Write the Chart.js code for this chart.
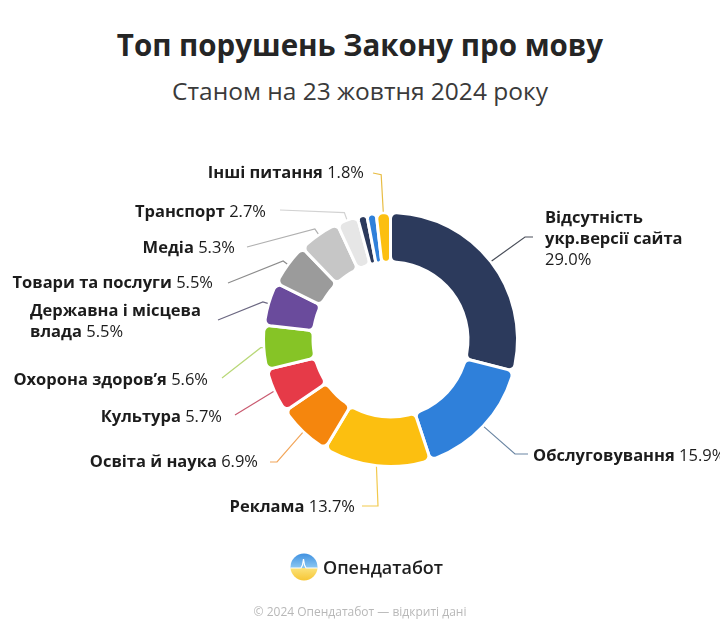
<!DOCTYPE html>
<html lang="uk">
<head>
<meta charset="utf-8">
<title>Топ порушень Закону про мову</title>
<script src="https://cdn.jsdelivr.net/npm/chart.js@4.4.1/dist/chart.umd.min.js"></script>
<style>
    html, body { margin: 0; padding: 0; background: #fff; }
    body {
        width: 720px; height: 631px; position: relative; overflow: hidden;
        font-family: "Open Sans", "Noto Sans", sans-serif;
    }
    #mainChart { position: absolute; left: 0; top: 0; }
    .title {
        position: absolute; left: 0; right: 0; top: 27px; margin: 0;
        text-align: center; font-size: 29.5px; line-height: 36px; font-weight: 700; color: #252525;
    }
    .subtitle {
        position: absolute; left: 0; right: 0; top: 76px; margin: 0;
        text-align: center; font-size: 24.5px; line-height: 30px; font-weight: 400; color: #3a3a3a;
    }
    .brand {
        position: absolute; left: 290px; top: 553px; height: 28px;
        display: flex; align-items: center; gap: 5px;
        font-size: 18px; font-weight: 600; color: #1e1e1e;
    }
    .copy {
        position: absolute; left: 0; right: 0; top: 603px; text-align: center;
        font-size: 12px; line-height: 18px; color: #b8b8b8;
    }
</style>
</head>
<body>
<h1 class="title">Топ порушень Закону про мову</h1>
<p class="subtitle">Станом на 23 жовтня 2024 року</p>
<canvas id="mainChart" width="720" height="631"></canvas>
<div class="brand">
    <svg width="28" height="28" viewBox="0 0 28 28">
        <defs>
            <clipPath id="c"><circle cx="14" cy="14" r="13.5"/></clipPath>
            <linearGradient id="sky" x1="0" y1="0" x2="0" y2="1">
                <stop offset="0" stop-color="#3d8fe0"/>
                <stop offset="1" stop-color="#8cc8f2"/>
            </linearGradient>
            <linearGradient id="field" x1="0" y1="0" x2="0" y2="1">
                <stop offset="0" stop-color="#fbe27a"/>
                <stop offset="1" stop-color="#f6c532"/>
            </linearGradient>
        </defs>
        <g clip-path="url(#c)">
            <rect x="0" y="0" width="28" height="15" fill="url(#sky)"/>
            <rect x="0" y="15" width="28" height="13" fill="url(#field)"/>
            <path d="M0 15 L11 15 L12.5 12 L13.5 6 L14.5 12 L16 15 L28 15" fill="none" stroke="#fff" stroke-width="1.2"/>
        </g>
    </svg>
    <span>Опендатабот</span>
</div>
<div class="copy">© 2024 Опендатабот — відкриті дані</div>

<script>
// shares in %, clockwise from 12 o'clock
const categories = [
    'Відсутність укр.версії сайта', 'Обслуговування', 'Реклама', 'Освіта й наука',
    'Культура', 'Охорона здоров’я', 'Державна і місцева влада', 'Товари та послуги',
    'Медіа', 'Транспорт', '', '', 'Інші питання'
];
const shares = [29.0, 15.9, 13.7, 6.9, 5.7, 5.6, 5.5, 5.5, 5.3, 2.7, 1.2, 1.2, 1.8];

// how the name is broken into lines next to the ring
const labelLines = [
    ['Відсутність', 'укр.версії сайта'], ['Обслуговування'], ['Реклама'], ['Освіта й наука'],
    ['Культура'], ['Охорона здоров’я'], ['Державна і місцева', 'влада'], ['Товари та послуги'],
    ['Медіа'], ['Транспорт'], null, null, ['Інші питання']
];

const sliceColors = [
    '#2c3a5c', '#2f80da', '#fcbf10', '#f5860d', '#e63a48', '#86c426', '#6a4b9c',
    '#9b9b9b', '#c6c6c6', '#e6e6e6', '#2c3a5c', '#2f80da', '#fcbf10'
];
const leaderColors = [
    '#4a4f5a', '#6b86a3', '#f2c94c', '#f2a65a', '#c95a70', '#b9d879', '#6c6882',
    '#8c8c8c', '#b0b0b0', '#d2d2d2', null, null, '#e8bd45'
];

// label placement: ext = radial elbow, end = where the leader meets the text, text anchor
const labelLayout = [
    { ext: 0,  end: [525, 237], tail: 8,   tx: 545, ty: 218, align: 'left', pctNewLine: true },
    { ext: 0,  end: [515, 454], tail: 13,  tx: 533, ty: 456, align: 'left' },
    { ext: 0,  end: [378, 506], tail: -16, tx: 355, ty: 507, align: 'right' },
    { ext: 0,  end: [277, 462], tail: -7,  tx: 258, ty: 462, align: 'right' },
    { ext: 0,  end: [235, 415], tail: 0,   tx: 222, ty: 417, align: 'right' },
    { ext: 3,  end: [222, 378], tail: 0,   tx: 208, ty: 380, align: 'right' },
    { ext: 6,  end: [218, 320], tail: 0,   tx: 30,  ty: 311, align: 'left' },
    { ext: 6,  end: [228, 283], tail: 0,   tx: 213, ty: 283, align: 'right' },
    { ext: 7,  end: [247, 247], tail: 0,   tx: 235, ty: 248, align: 'right' },
    { ext: 8,  end: [280, 210], tail: 0,   tx: 266, ty: 212, align: 'right' },
    null, null,
    { ext: 38, end: [373, 173], tail: 0,   tx: 364, ty: 173, align: 'right' }
];

const FONT = '"Open Sans", "Noto Sans", sans-serif';
const LINE_H = 21;

function drawLabel(ctx, lines, pct, lay) {
    ctx.textBaseline = 'middle';
    ctx.fillStyle = '#1c1c1c';
    const bold = '700 16.5px ' + FONT;
    const reg = '400 16.5px ' + FONT;
    lines.forEach((line, i) => {
        const y = lay.ty + i * LINE_H;
        const isLast = i === lines.length - 1;
        ctx.font = bold;
        const wb = ctx.measureText(line).width;
        let tailText = '';
        let ws = 0;
        if (isLast && !lay.pctNewLine) {
            tailText = ' ' + pct;
            ctx.font = reg;
            ws = ctx.measureText(tailText).width;
        }
        const x0 = lay.align === 'right' ? lay.tx - wb - ws : lay.tx;
        ctx.font = bold;
        ctx.textAlign = 'left';
        ctx.fillText(line, x0, y);
        if (tailText) {
            ctx.font = reg;
            ctx.fillText(tailText, x0 + wb, y);
        }
    });
    if (lay.pctNewLine) {
        ctx.font = reg;
        ctx.textAlign = 'left';
        ctx.fillText(pct, lay.tx, lay.ty + lines.length * LINE_H);
    }
}

const leaderPlugin = {
    id: 'leaders',
    afterDatasetsDraw(chart) {
        const ctx = chart.ctx;
        const meta = chart.getDatasetMeta(0);
        ctx.save();
        meta.data.forEach((arc, i) => {
            const lay = labelLayout[i];
            if (!lay || !labelLines[i]) return;
            const { x, y, startAngle, endAngle, outerRadius } = arc.getProps(['x', 'y', 'startAngle', 'endAngle', 'outerRadius'], true);
            const mid = (startAngle + endAngle) / 2;
            const pts = [[x + Math.cos(mid) * (outerRadius + 1), y + Math.sin(mid) * (outerRadius + 1)]];
            if (lay.ext) {
                pts.push([x + Math.cos(mid) * (outerRadius + lay.ext), y + Math.sin(mid) * (outerRadius + lay.ext)]);
            }
            pts.push(lay.end);
            if (lay.tail) pts.push([lay.end[0] + lay.tail, lay.end[1]]);

            ctx.beginPath();
            ctx.strokeStyle = leaderColors[i];
            ctx.lineWidth = 1.2;
            pts.forEach((p, k) => (k ? ctx.lineTo(p[0], p[1]) : ctx.moveTo(p[0], p[1])));
            ctx.stroke();

            drawLabel(ctx, labelLines[i], shares[i].toFixed(1) + '%', lay);
        });
        ctx.restore();
    }
};

const ctx = document.getElementById('mainChart').getContext('2d');
new Chart(ctx, {
    type: 'doughnut',
    data: {
        labels: categories,
        datasets: [{
            data: shares,
            backgroundColor: sliceColors,
            borderColor: '#ffffff',
            borderWidth: 3,
            borderRadius: 6,
            hoverOffset: 0
        }]
    },
    options: {
        responsive: false,
        animation: false,
        cutout: '61%',
        rotation: 0,
        layout: { padding: { left: 262, top: 211, right: 201, bottom: 163 } },
        plugins: {
            legend: { display: false },
            tooltip: { enabled: false }
        },
        events: []
    },
    plugins: [leaderPlugin]
});
</script>
</body>
</html>
